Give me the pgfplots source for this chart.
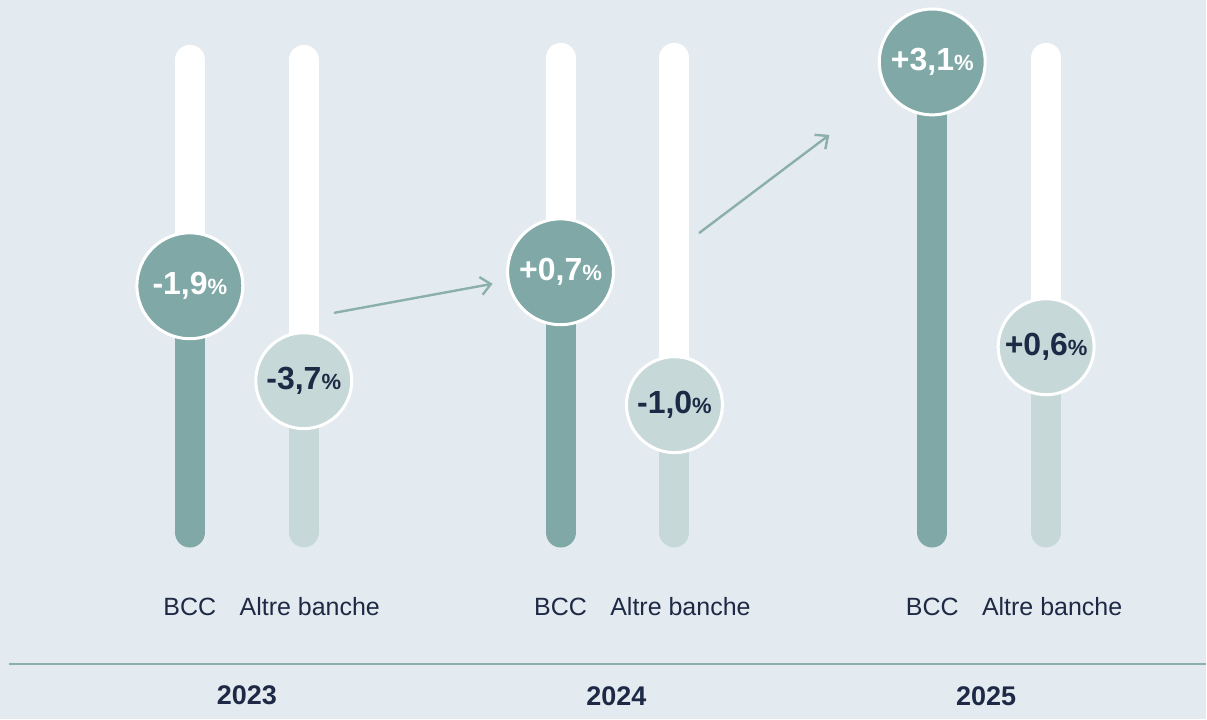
\documentclass[border=0pt]{standalone}
\usepackage{fontspec}
\setmainfont{Liberation Sans}
\usepackage{pgfplots}
\usepackage{pgfplotstable}
\pgfplotsset{compat=1.18}
\usetikzlibrary{arrows.meta}
\definecolor{bg}{HTML}{E4EBF0}
\definecolor{dark}{HTML}{7FA8A7}
\definecolor{light}{HTML}{C6D8D8}
\definecolor{navy}{HTML}{1E2A45}
\definecolor{arrowc}{HTML}{8AB0A9}
\definecolor{rule}{HTML}{8DAFAE}

% circle level (vertical position, px from bottom) and printed value
\pgfplotstableread[col sep=semicolon]{
x;y;lab
190;434;-1,9
561;448;+0,7
933;658;+3,1
}\bcc
\pgfplotstableread[col sep=semicolon]{
x;y;lab
304;339;-3,7
675;315;-1,0
1047;373;+0,6
}\altre

\begin{document}
\begin{tikzpicture}
\begin{axis}[
  scale only axis, width=603.5pt, height=360pt,
  xmin=0, xmax=1207, ymin=0, ymax=720,
  axis lines=none, ticks=none,
  clip=false,
  every axis plot/.append style={line cap=round},
]
\fill[bg] (rel axis cs:0,0) rectangle (rel axis cs:1,1);

% white tracks
\addplot[white, line width=15pt] coordinates {(190,187) (190,660)};
\addplot[white, line width=15pt] coordinates {(304,187) (304,660)};
\addplot[white, line width=15pt] coordinates {(561,187) (561,662)};
\addplot[white, line width=15pt] coordinates {(675,187) (675,662)};
\addplot[white, line width=15pt] coordinates {(933,187) (933,660)};
\addplot[white, line width=15pt] coordinates {(1047,187) (1047,662)};

% filled parts
\addplot[dark, line width=15pt] coordinates {(190,187) (190,434)};
\addplot[light, line width=15pt] coordinates {(304,187) (304,339)};
\addplot[dark, line width=15pt] coordinates {(561,187) (561,448)};
\addplot[light, line width=15pt] coordinates {(675,187) (675,315)};
\addplot[dark, line width=15pt] coordinates {(933,187) (933,658)};
\addplot[light, line width=15pt] coordinates {(1047,187) (1047,373)};

% arrows
\addplot[arrowc, line width=1.2pt, -{Straight Barb[length=5pt,width=9pt]}] coordinates {(335,407) (493,436)};
\addplot[arrowc, line width=1.2pt, -{Straight Barb[length=5pt,width=9pt]}] coordinates {(700,487) (830,585)};

% circles
\addplot[only marks, mark=*, mark size=26.5pt,
  mark options={fill=dark, draw=white, line width=1.5pt},
  point meta=explicit symbolic,
  nodes near coords={\fontsize{16}{17}\selectfont\bfseries\pgfplotspointmeta{\fontsize{11}{12}\selectfont\%}},
  nodes near coords style={anchor=center, text=white, inner sep=0pt},
] table[x=x, y=y, meta=lab] {\bcc};
\addplot[only marks, mark=*, mark size=24pt,
  mark options={fill=light, draw=white, line width=1.5pt},
  point meta=explicit symbolic,
  nodes near coords={\fontsize{16}{17}\selectfont\bfseries\pgfplotspointmeta{\fontsize{11}{12}\selectfont\%}},
  nodes near coords style={anchor=center, text=navy, inner sep=0pt},
] table[x=x, y=y, meta=lab] {\altre};

% baseline rule
\addplot[rule, line width=1pt, line cap=butt] coordinates {(9,55) (1207,55)};

% category labels
\node[text=navy, anchor=base, font=\fontsize{12.5}{14}\selectfont] at (axis cs:190,104) {BCC};
\node[text=navy, anchor=base, font=\fontsize{12.5}{14}\selectfont] at (axis cs:310,104) {Altre banche};
\node[text=navy, anchor=base, font=\fontsize{12.5}{14}\selectfont] at (axis cs:561,104) {BCC};
\node[text=navy, anchor=base, font=\fontsize{12.5}{14}\selectfont] at (axis cs:681,104) {Altre banche};
\node[text=navy, anchor=base, font=\fontsize{12.5}{14}\selectfont] at (axis cs:933,104) {BCC};
\node[text=navy, anchor=base, font=\fontsize{12.5}{14}\selectfont] at (axis cs:1053,104) {Altre banche};
\node[text=navy, anchor=base, font=\fontsize{13.5}{16}\selectfont\bfseries] at (axis cs:247,15) {2023};
\node[text=navy, anchor=base, font=\fontsize{13.5}{16}\selectfont\bfseries] at (axis cs:617,14) {2024};
\node[text=navy, anchor=base, font=\fontsize{13.5}{16}\selectfont\bfseries] at (axis cs:987,14) {2025};
\end{axis}
\end{tikzpicture}
\end{document}
